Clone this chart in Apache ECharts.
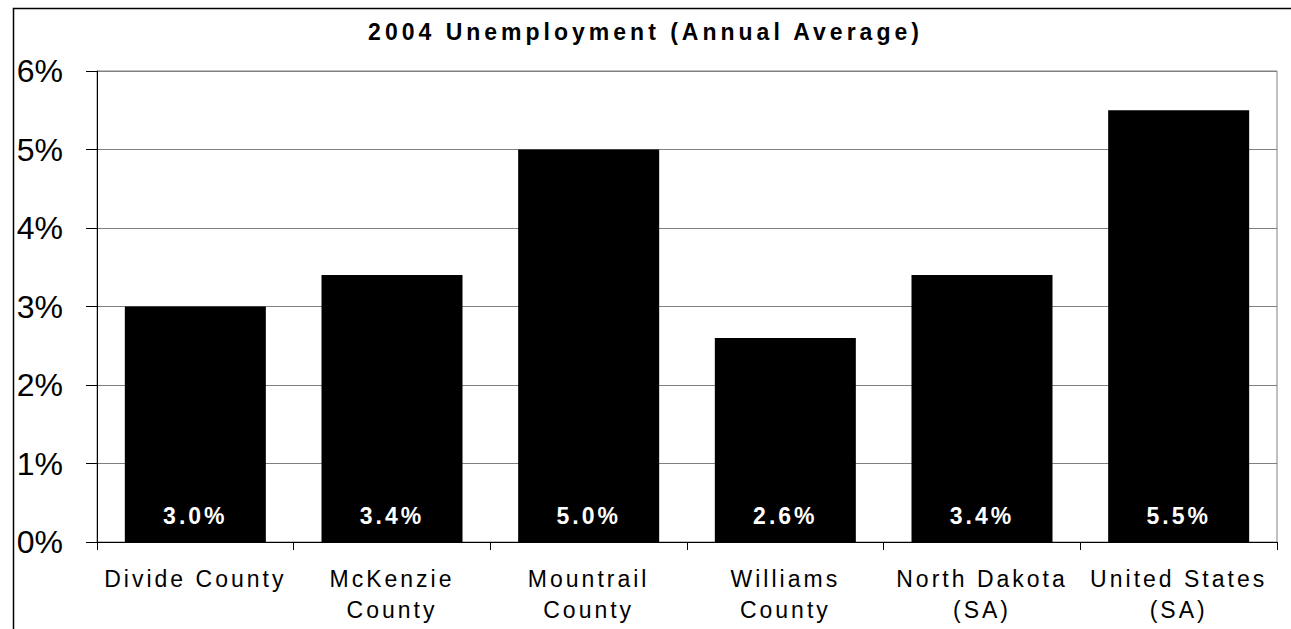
<!DOCTYPE html>
<html>
<head>
<meta charset="utf-8">
<title>2004 Unemployment (Annual Average)</title>
<script src="https://cdn.jsdelivr.net/npm/echarts@6/dist/echarts.min.js"></script>
<style>
  html, body { margin: 0; padding: 0; background: #fff; }
  #chart { width: 1291px; height: 629px; }
  /* wide letter tracking used throughout the chart */
  #chart svg text { letter-spacing: 3px; }
  #chart svg text[style*="700"] { letter-spacing: 4px; }
  #chart svg text[style*="32px"] { letter-spacing: 0; }
</style>
</head>
<body>
<div id="chart"></div>
<script>
// Annual average unemployment rate, 2004 (percent)
const categories = [
  'Divide County',
  'McKenzie\nCounty',
  'Mountrail\nCounty',
  'Williams\nCounty',
  'North Dakota\n(SA)',
  'United States\n(SA)'
];
const rates = [3.0, 3.4, 5.0, 2.6, 3.4, 5.5];
const yTicks = { min: 0, max: 6, interval: 1 };

const FONT = 'Liberation Sans, Arial, sans-serif';

const chart = echarts.init(document.getElementById('chart'), null, { renderer: 'svg' });

chart.setOption({
  animation: false,
  backgroundColor: '#ffffff',
  title: {
    text: '2004 Unemployment (Annual Average)',
    left: 'center',
    top: 15,
    textStyle: { fontFamily: FONT, fontSize: 23, fontWeight: 700, color: '#000' }
  },
  graphic: [{
    type: 'rect',
    left: 11,
    top: 6,
    shape: { width: 1279, height: 700 },
    style: { fill: 'none', stroke: '#000', lineWidth: 1.5 },
    silent: true
  }],
  grid: {
    left: 97,
    right: 14,
    top: 71,
    bottom: 87,
    show: true,
    borderColor: '#808080',
    borderWidth: 1,
    containLabel: false
  },
  xAxis: {
    type: 'category',
    data: categories,
    axisLine: { show: true, lineStyle: { color: '#000', width: 1 } },
    axisTick: { show: true, alignWithLabel: false, length: 8, lineStyle: { color: '#000' } },
    axisLabel: {
      interval: 0,
      margin: 21,
      fontFamily: FONT,
      fontSize: 23,
      lineHeight: 31,
      color: '#000'
    },
    splitLine: { show: false }
  },
  yAxis: {
    type: 'value',
    min: yTicks.min,
    max: yTicks.max,
    interval: yTicks.interval,
    axisLine: { show: true, lineStyle: { color: '#000', width: 1 } },
    axisTick: { show: true, inside: false, length: 11, lineStyle: { color: '#000' } },
    axisLabel: {
      formatter: '{value}%',
      margin: 34,
      padding: [0, 0, 3, 0],
      fontFamily: FONT,
      fontSize: 32,
      color: '#000'
    },
    splitLine: { show: true, lineStyle: { color: '#808080', width: 1 } }
  },
  series: [{
    type: 'bar',
    data: rates,
    barCategoryGap: '28.3%',
    itemStyle: { color: '#000' },
    label: {
      show: true,
      position: 'insideBottom',
      distance: 15,
      formatter: p => p.value.toFixed(1) + '%',
      fontFamily: FONT,
      fontSize: 23,
      fontWeight: 'bold',
      color: '#fff'
    }
  }]
});
</script>
</body>
</html>
